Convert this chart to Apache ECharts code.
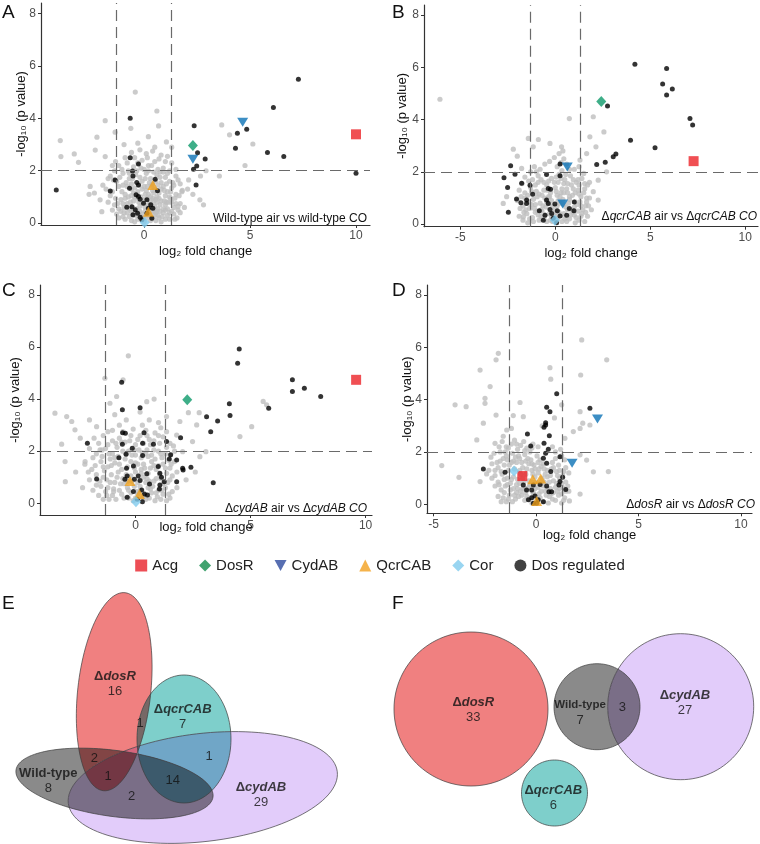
<!DOCTYPE html>
<html><head><meta charset="utf-8">
<script src="https://cdn.jsdelivr.net/npm/echarts@6/dist/echarts.min.js"></script>
<style>html,body{margin:0;padding:0;background:#fff}#c{width:760px;height:844px}</style>
</head><body><div id="c"></div>
<script>
// ---------- DATA ----------
const xTicksA = [0, 5, 10];
const xTicksB = [-5, 0, 5, 10];
const xTicksC = [0, 5, 10];
const xTicksD = [-5, 0, 5, 10];
const yTicks = [0, 2, 4, 6, 8];
const fcCut = 1.3;
const pCut = 2;

// Panel A: Wild-type air vs wild-type CO
const aGrey = [[-0.42,5.0],[0.6,4.28],[-1.37,3.47],[-1.84,3.91],[-0.63,3.62],[0.68,3.71],[-2.23,3.28],[-3.96,3.15],[-3.93,2.54],[-3.3,2.64],[-3.1,2.32],[-2.31,2.79],[-1.84,2.54],[3.66,3.75],[4.03,3.37],[5.13,3.02],[4.76,2.2],[3.55,1.8],[2.92,2.0],[2.66,1.8],[2.1,1.65],[2.63,0.89],[1.78,1.2],[2.05,1.3],[-2.55,1.4],[-2.08,0.89],[-2.0,0.44],[-2.35,1.15],[-1.95,1.45],[-1.7,1.7],[1.05,3.1],[1.3,2.9],[-0.95,3.0],[0.2,3.3],[-0.3,3.05],[2.3,1.1],[1.6,0.5],[2.8,0.7],[-2.6,1.1],[-1.5,2.2],
[-0.6,2.7],[-0.2,2.8],[0.1,2.65],[0.4,2.75],[0.8,2.6],[-0.9,2.5],[1.1,2.55],[0.5,2.9],
[-1.2,2.2],[-0.8,2.3],[-0.5,2.15],[-0.1,2.4],[0.2,2.2],[0.5,2.35],[0.9,2.1],[1.3,2.3],[1.5,2.05],[-1.4,2.0],[0.0,2.05],[0.7,2.45],[-0.3,2.3],
[-1.6,1.8],[-1.3,1.6],[-1.0,1.9],[-0.7,1.7],[-0.4,1.85],[-0.1,1.6],[0.1,1.9],[0.3,1.7],[0.6,1.85],[0.8,1.55],[1.0,1.75],[1.2,1.6],[1.5,1.8],[1.7,1.5],[-0.6,1.5],[0.4,1.5],[-0.2,1.75],[0.9,1.95],
[-1.8,1.3],[-1.5,1.2],[-1.2,1.4],[-0.9,1.1],[-0.6,1.3],[-0.3,1.2],[0.0,1.4],[0.2,1.1],[0.5,1.3],[0.7,1.15],[0.9,1.4],[1.1,1.2],[1.3,1.35],[1.5,1.1],[1.8,1.25],[-1.0,1.45],[0.35,1.45],[-0.45,1.0],[0.1,1.25],[0.6,1.0],[1.2,1.0],
[-1.7,0.8],[-1.4,0.7],[-1.1,0.9],[-0.8,0.75],[-0.5,0.85],[-0.2,0.65],[0.0,0.9],[0.3,0.8],[0.5,0.65],[0.8,0.85],[1.0,0.7],[1.3,0.8],[1.6,0.65],[1.9,0.6],[-1.2,0.55],[-0.7,0.55],[0.15,0.55],[0.65,0.55],[1.1,0.55],[0.4,0.95],
[-1.3,0.35],[-1.0,0.25],[-0.8,0.4],[-0.5,0.3],[-0.3,0.15],[-0.1,0.35],[0.1,0.2],[0.3,0.1],[0.5,0.3],[0.7,0.2],[0.9,0.4],[1.1,0.3],[1.4,0.35],[1.7,0.4],[0.0,0.05],[0.2,0.4],[-0.6,0.1],[0.6,0.45],[0.8,0.05],[1.2,0.15],[-0.2,0.45],[0.4,0.2],
[-1.35,2.35],[-1.05,2.05],[-0.75,2.0],[-0.45,2.5],[-0.15,2.1],[0.15,2.5],[0.35,2.2],[0.65,2.05],[1.0,2.35],[1.2,2.0],
[-1.45,1.65],[-1.15,1.75],[-0.85,1.55],[-0.55,1.7],[-0.25,1.45],[0.05,1.7],[0.25,1.55],[0.55,1.6],[0.75,1.75],[1.05,1.5],[1.35,1.55],[1.6,1.65],
[-1.6,1.05],[-1.35,0.95],[-1.05,1.2],[-0.75,1.0],[-0.5,1.15],[-0.15,1.0],[0.05,1.1],[0.3,1.0],[0.45,1.15],[0.8,1.3],[1.0,1.05],[1.25,1.2],[1.45,0.95],[1.65,1.05],
[-1.5,0.5],[-1.25,0.75],[-0.95,0.6],[-0.65,0.8],[-0.35,0.55],[-0.1,0.75],[0.2,0.7],[0.4,0.6],[0.6,0.8],[0.9,0.55],[1.15,0.8],[1.4,0.6],[1.7,0.75],
[-1.1,0.45],[-0.9,0.15],[-0.7,0.25],[-0.4,0.4],[-0.15,0.25],[0.05,0.45],[0.25,0.3],[0.45,0.45],[0.65,0.3],[0.85,0.25],[1.0,0.5],[1.3,0.45],[1.55,0.2],[0.55,0.1],[-0.45,0.05],
[-0.7,1.9],[-0.35,2.0],[0.2,2.0],[0.45,1.95],[0.75,1.95],[1.1,1.9],
[-0.8,1.4],[-0.45,1.35],[-0.1,1.3],[0.15,1.4],[0.4,1.25],[0.65,1.45],[0.95,1.25],[1.4,1.45],
[-0.9,0.95],[-0.6,1.05],[-0.3,0.95],[0.15,0.95],[0.45,0.85],[0.7,0.95],[0.95,0.85],[1.25,0.95],
[-1.0,0.75],[-0.55,0.6],[-0.25,0.8],[0.05,0.6],[0.35,0.7],[0.55,0.9],[0.75,0.7],[1.05,0.8],[1.5,0.75],
[-1.2,0.2],[-0.95,0.4],[-0.6,0.45],[-0.35,0.3],[-0.05,0.2],[0.15,0.3],[0.35,0.45],[0.55,0.4],[0.75,0.45],[1.0,0.15],[1.2,0.4],[1.45,0.15]];
const aDos = [[7.28,5.49],[6.10,4.41],[4.84,3.58],[4.40,3.43],[4.31,2.86],[5.82,2.70],[6.59,2.54],[10.0,1.90],[2.36,3.72],[2.52,2.69],[2.88,2.45],[2.48,2.18],[2.33,2.06],[2.45,1.46],[-0.66,4.0],[-0.66,2.5],[-0.27,2.26],[-0.55,1.99],[-4.15,1.27],[-1.37,1.65],[-1.6,1.23],[-0.53,1.8],[0.52,1.68],[0.63,1.24],[-0.69,1.33],[-0.35,1.55],[-0.27,1.46],[-0.38,1.08],[-0.27,1.02],[-0.19,0.91],[-0.82,0.61],[-0.58,0.63],[-0.42,0.51],[-0.31,0.38],[-0.19,0.23],[-0.03,0.76],[0.13,0.89],[0.2,0.57],[0.36,0.19],[0.41,0.57],[-0.53,0.32],[-0.11,0.13],[0.13,0.38],[0.31,0.7]];
const aAcg = [[10.0,3.39]];
const aDosR = [[2.3,2.96]];
const aCydAB = [[4.65,3.85],[2.3,2.44]];
const aQcrCAB = [[0.41,1.46],[0.2,0.44]];
const aCor = [[0.02,0.03]];

// Panel B: ΔqcrCAB air vs ΔqcrCAB CO
const bGrey = [[-6.07,4.78],[0.74,4.04],[2.0,4.11],[2.56,3.53],[1.82,3.34],[2.14,2.96],[1.65,2.7],[1.3,2.45],[1.5,1.94],[2.26,1.68],[2.26,0.92],[2.0,1.24],[-0.89,3.24],[-1.42,3.28],[-1.16,2.96],[-0.28,3.09],[-2.21,2.87],[0.33,2.96],[0.4,2.8],[-1.77,2.13],[-2.56,1.05],[-2.74,0.79],[-1.68,0.28],[-2.0,2.6],[2.7,2.0],[1.8,1.6],
[0.2,2.7],[0.45,2.5],[-0.3,2.4],[0.1,2.2],[0.6,2.3],[-0.8,2.1],[-1.3,2.0],[1.0,2.1],[0.35,2.05],
[-1.6,1.8],[-1.2,1.7],[-0.9,1.85],[-0.6,1.6],[-0.2,1.75],[0.2,1.9],[0.5,1.7],[0.8,1.85],[1.1,1.6],[1.4,1.75],[1.7,1.5],
[-1.9,1.3],[-1.6,1.2],[-1.3,1.4],[-1.0,1.25],[-0.7,1.1],[-0.4,1.3],[0.0,1.4],[0.3,1.2],[0.6,1.35],[0.9,1.1],[1.2,1.3],[1.5,1.2],[1.8,1.0],[0.45,1.55],[0.15,1.6],
[-2.0,0.9],[-1.7,0.7],[-1.4,0.85],[-1.1,0.6],[-0.8,0.8],[-0.5,0.65],[-0.2,0.9],[0.1,0.7],[0.4,0.95],[0.7,0.8],[1.0,0.65],[1.3,0.85],[1.6,0.7],[1.9,0.55],[0.25,1.05],[-0.35,1.05],
[-1.9,0.3],[-1.5,0.4],[-1.2,0.25],[-0.9,0.35],[-0.6,0.2],[-0.3,0.4],[0.0,0.3],[0.2,0.45],[0.5,0.2],[0.8,0.35],[1.1,0.25],[1.4,0.4],[1.7,0.3],[-0.15,0.1],[0.35,0.1],[0.65,0.55],[1.2,0.5],[-0.7,0.5],
[-1.1,2.2],[-0.55,2.3],[-0.05,2.55],[0.3,2.35],[0.75,2.1],[1.25,2.2],[-1.0,2.0],
[-1.75,1.55],[-1.4,1.65],[-1.05,1.5],[-0.75,1.7],[-0.45,1.5],[-0.05,1.6],[0.3,1.75],[0.65,1.55],[0.95,1.7],[1.25,1.5],[1.55,1.55],
[-1.8,1.05],[-1.45,1.1],[-1.15,0.95],[-0.85,1.15],[-0.55,1.0],[-0.25,1.2],[0.1,1.1],[0.45,1.2],[0.75,1.05],[1.05,1.2],[1.35,1.05],[1.65,1.0],
[-1.85,0.6],[-1.55,0.55],[-1.25,0.75],[-0.95,0.5],[-0.65,0.7],[-0.35,0.8],[-0.05,0.55],[0.25,0.8],[0.55,0.65],[0.85,0.55],[1.15,0.75],[1.45,0.55],[1.75,0.7],
[-1.7,0.15],[-1.35,0.2],[-1.05,0.45],[-0.75,0.3],[-0.45,0.1],[-0.2,0.3],[0.1,0.2],[0.3,0.35],[0.6,0.1],[0.95,0.45],[1.25,0.15],[1.55,0.1],[1.05,0.05],
[-0.9,1.6],[-0.35,1.65],[0.05,1.8],[0.55,1.9],[0.85,1.5],[1.2,1.7],
[-1.6,1.0],[-1.25,1.25],[-0.95,1.05],[-0.6,1.3],[-0.3,1.05],[0.05,1.25],[0.35,1.35],[0.65,1.2],[0.95,1.35],[1.25,1.15],[1.55,1.35],
[-1.65,0.45],[-1.35,0.6],[-1.05,0.75],[-0.75,0.55],[-0.45,0.85],[-0.15,0.7],[0.15,0.9],[0.45,0.75],[0.75,0.95],[1.05,0.85],[1.35,0.7],[1.65,0.85],
[-1.45,0.05],[-1.15,0.1],[-0.85,0.15],[-0.55,0.35],[-0.25,0.15],[0.05,0.45],[0.45,0.4],[0.75,0.2],[1.0,0.35],[1.35,0.3],[1.6,0.45]];
const bDos = [[4.19,6.12],[5.86,5.96],[5.65,5.36],[6.16,5.17],[5.86,4.94],[7.09,4.04],[7.23,3.79],[3.96,3.21],[5.25,2.92],[3.19,2.68],[3.05,2.58],[2.63,2.37],[2.18,2.28],[2.75,4.52],[0.25,2.30],[0.25,1.85],[-2.35,2.23],[-2.12,1.91],[-2.70,1.77],[-2.51,1.40],[-1.77,1.56],[-2.04,0.96],[-1.81,0.82],[-2.47,0.45],[-1.51,0.92],[-1.51,0.79],[-1.19,1.14],[-1.33,1.49],[-0.46,1.90],[-0.37,1.36],[-0.25,1.33],[-0.46,0.92],[-0.37,0.79],[-0.28,0.56],[-0.84,0.51],[-0.54,0.34],[-0.19,0.41],[-0.11,0.22],[0.11,0.51],[0.25,0.31],[0.60,0.34],[0.74,0.60],[0.98,0.51],[1.0,0.85],[-0.63,0.15],[0.07,0.05],[-0.02,0.77]];
const bAcg = [[7.28,2.41]];
const bDosR = [[2.42,4.69]];
const bCydAB = [[0.63,2.19],[0.39,0.77]];
const bQcrCAB = [];
const bCor = [[-0.02,0.15]];

// Panel C: ΔcydAB air vs ΔcydAB CO
const cGrey = [[-0.31,5.66],[-1.33,4.8],[-0.54,4.74],[-3.5,3.46],[-2.99,3.33],[-2.77,3.14],[-2.63,2.82],[-3.21,2.27],[-3.06,1.6],[-3.05,0.83],[-2.0,3.2],[-1.69,2.94],[-1.54,2.05],[-2.19,1.6],[-1.11,3.84],[-0.82,4.1],[0.49,3.9],[0.81,4.0],[1.35,3.33],[1.93,3.14],[2.3,3.48],[2.77,3.48],[2.66,3.01],[2.48,2.37],[3.06,1.98],[5.55,3.91],[5.7,3.78],[4.54,2.56],[5.05,2.94],[1.79,2.62],[2.05,1.98],[2.8,1.79],[-2.4,2.5],[-2.6,1.2],[-2.3,0.6],[2.2,0.9],[2.6,1.2],[-0.9,3.4],[0.2,3.5],[1.0,3.1],
[-0.7,3.0],[-0.4,3.2],[0.3,3.0],[0.6,3.2],[1.1,2.9],[-1.0,2.8],
[-1.8,2.5],[-1.4,2.6],[-1.0,2.4],[-0.7,2.5],[-0.2,2.6],[0.1,2.45],[0.5,2.6],[0.8,2.4],[1.2,2.55],[1.5,2.3],
[-2.0,2.1],[-1.7,1.9],[-1.3,2.1],[-1.0,1.9],[-0.8,2.15],[-0.3,2.0],[0.0,1.85],[0.5,2.05],[0.7,1.85],[1.0,2.0],[1.3,1.9],[1.7,2.0],
[-2.2,1.5],[-1.9,1.3],[-1.5,1.6],[-1.2,1.4],[-0.9,1.55],[-0.6,1.3],[-0.2,1.6],[0.1,1.5],[0.4,1.35],[0.7,1.6],[0.9,1.3],[1.2,1.5],[1.5,1.35],[1.8,1.2],[0.25,1.75],[-0.45,1.7],
[-2.0,0.9],[-1.7,0.7],[-1.4,1.0],[-1.1,0.8],[-0.8,1.0],[-0.5,0.75],[-0.2,1.05],[0.1,0.8],[0.35,1.0],[0.6,0.85],[0.9,0.95],[1.2,0.75],[1.5,0.9],[1.8,0.6],[0.0,1.2],
[-1.6,0.3],[-1.3,0.45],[-1.0,0.3],[-0.7,0.5],[-0.5,0.2],[-0.2,0.4],[0.0,0.2],[0.2,0.5],[0.45,0.15],[0.7,0.4],[0.95,0.25],[1.2,0.35],[1.5,0.2],[-0.35,0.6],[0.55,0.6],[-0.1,0.1],
[-0.55,2.75],[-0.1,2.85],[0.45,2.8],[0.85,2.7],[-1.2,2.75],[1.35,2.75],
[-1.6,2.3],[-1.2,2.25],[-0.85,2.3],[-0.45,2.35],[0.0,2.25],[0.35,2.3],[0.65,2.25],[1.05,2.3],[1.35,2.15],[1.65,2.2],
[-1.85,1.75],[-1.45,1.8],[-1.1,1.7],[-0.75,1.8],[-0.4,1.9],[-0.05,2.05],[0.3,1.95],[0.55,1.8],[0.85,1.7],[1.15,1.75],[1.45,1.65],[1.7,1.6],
[-2.05,1.2],[-1.7,1.1],[-1.35,1.25],[-1.05,1.1],[-0.75,1.2],[-0.4,1.1],[-0.05,1.35],[0.25,1.3],[0.55,1.15],[0.8,1.45],[1.05,1.1],[1.35,1.15],[1.6,1.05],
[-1.85,0.5],[-1.5,0.65],[-1.2,0.6],[-0.95,0.55],[-0.65,0.75],[-0.35,0.85],[-0.05,0.65],[0.2,0.65],[0.45,0.8],[0.75,0.65],[1.0,0.5],[1.3,0.6],[1.6,0.45],
[-1.4,0.15],[-1.15,0.15],[-0.85,0.15],[-0.3,0.2],[0.1,0.35],[0.35,0.3],[0.6,0.2],[0.85,0.1],[1.1,0.15],[1.35,0.1],
[-0.6,2.35],[-0.25,2.4],[0.2,2.6],[0.6,2.45],[1.0,2.6],
[-1.45,2.05],[-1.15,1.9],[-0.9,1.75],[-0.55,2.0],[-0.15,1.85],[0.15,2.05],[0.45,1.9],[0.8,2.05],[1.1,1.9],[1.5,1.85],
[-1.75,1.45],[-1.4,1.4],[-1.05,1.45],[-0.7,1.5],[-0.35,1.4],[0.0,1.55],[0.35,1.5],[0.65,1.35],[1.0,1.45],[1.3,1.35],[1.55,1.5],
[-1.55,0.85],[-1.25,0.9],[-0.9,0.8],[-0.55,0.95],[-0.15,0.85],[0.25,1.15],[0.5,0.95],[0.8,0.85],[1.1,0.95],[1.4,0.8],
[-1.25,0.3],[-0.95,0.45],[-0.6,0.35],[-0.3,0.5],[0.05,0.45],[0.3,0.2],[0.65,0.55],[0.9,0.4],[1.15,0.5],[1.45,0.35]];
const cDos = [[4.51,5.92],[4.44,5.38],[6.82,4.74],[6.82,4.29],[7.34,4.42],[8.05,4.10],[5.79,3.65],[4.08,3.82],[4.11,3.37],[3.09,3.32],[3.57,3.16],[3.27,2.75],[1.96,2.52],[3.38,0.79],[-2.09,2.30],[-0.6,4.65],[-0.57,3.59],[-0.56,2.71],[-0.44,2.69],[0.2,3.67],[0.37,2.71],[-0.57,2.27],[-0.41,1.88],[-0.14,2.11],[0.31,2.30],[0.31,1.83],[0.78,2.27],[1.35,2.37],[-0.72,1.75],[-0.09,1.43],[1.53,1.86],[1.47,1.70],[1.79,1.66],[2.05,1.34],[2.07,1.28],[2.41,1.38],[1.79,0.83],[-1.69,0.93],[0.99,1.41],[1.06,1.15],[1.13,1.0],[1.06,0.70],[1.04,0.55],[1.25,0.83],[0.49,1.13],[0.61,0.74],[-0.39,1.34],[-0.36,1.05],[-0.05,0.92],[0.12,1.05],[0.2,0.87],[0.27,0.51],[-0.09,0.45],[0.39,0.36],[0.52,0.32],[-0.36,0.23],[0.08,0.15],[0.3,0.06],[-0.46,0.92]];
const cAcg = [[9.59,4.74]];
const cDosR = [[2.25,3.97]];
const cCydAB = [];
const cQcrCAB = [[-0.24,0.86],[0.17,0.36]];
const cCor = [[0.02,0.06]];

// Panel D: ΔdosR air vs ΔdosR CO
const dGrey = [[2.23,6.28],[3.45,5.52],[-1.84,5.77],[-1.95,5.52],[-2.73,5.13],[-2.24,4.5],[0.68,5.22],[0.72,4.78],[2.18,4.94],[-3.95,3.8],[-3.41,3.73],[-2.49,4.05],[-2.49,3.86],[-1.95,3.41],[-0.78,3.89],[-1.11,3.39],[-0.62,3.35],[1.25,3.8],[2.15,3.54],[2.28,3.1],[2.63,3.03],[2.15,2.9],[1.82,2.78],[1.41,2.52],[-4.6,1.48],[-3.76,1.03],[-2.73,0.87],[-2.41,1.16],[2.8,1.24],[3.53,1.25],[2.47,1.69],[2.15,1.89],[1.63,0.13],[2.15,0.39],[-2.0,2.33],[-1.43,2.84],[-2.89,2.46],[-2.57,3.1],[-1.6,2.6],[-1.2,2.9],[0.3,3.0],[0.9,3.3],
[-1.8,2.2],[-1.5,2.0],[-1.2,2.3],[-0.9,2.1],[-0.6,2.4],[-0.3,2.0],[0.1,2.2],[0.8,2.2],[1.2,2.1],
[-2.2,1.8],[-1.9,1.6],[-1.6,1.75],[-1.3,1.5],[-1.0,1.8],[-0.7,1.6],[-0.4,1.75],[-0.1,1.5],[0.2,1.7],[0.8,1.6],[1.1,1.5],[1.4,1.7],
[-2.3,1.3],[-2.0,1.1],[-1.7,1.25],[-1.4,1.0],[-1.1,1.05],[-0.8,1.3],[-0.5,1.15],[-0.2,1.3],[0.1,1.2],[0.4,1.35],[0.7,1.1],[1.0,1.25],[1.3,1.1],[1.6,1.2],[-1.2,1.6],
[-2.0,0.7],[-1.7,0.55],[-1.4,0.75],[-1.1,0.6],[-0.8,0.8],[-0.5,0.6],[-0.2,0.85],[0.1,0.65],[0.4,0.85],[0.7,0.6],[1.0,0.8],[1.3,0.65],[1.6,0.5],[-0.9,0.95],[0.3,1.0],
[-1.6,0.25],[-1.3,0.35],[-1.0,0.2],[-0.7,0.35],[-0.4,0.2],[-0.1,0.4],[0.2,0.25],[0.5,0.35],[0.8,0.2],[1.1,0.35],[1.4,0.25],[-0.5,0.45],[0.6,0.05],[-0.2,0.05],
[-1.65,2.4],[-1.35,2.15],[-1.05,2.45],[-0.75,2.25],[-0.45,2.15],[-0.15,2.3],[0.95,2.0],
[-2.05,1.95],[-1.75,2.0],[-1.45,1.85],[-1.15,1.95],[-0.85,1.85],[-0.55,1.9],[-0.25,1.7],[0.05,1.85],[0.35,1.55],[0.95,1.75],[1.25,1.85],
[-2.15,1.55],[-1.85,1.4],[-1.55,1.5],[-0.95,1.6],[-0.65,1.4],[-0.35,1.55],[-0.05,1.35],[0.25,1.45],[0.55,1.3],[0.85,1.4],[1.15,1.3],[1.45,1.4],
[-2.15,1.0],[-1.85,0.85],[-1.55,0.95],[-1.25,0.8],[-0.95,0.75],[-0.65,1.0],[-0.35,0.9],[-0.05,1.05],[0.25,0.85],[0.55,1.05],[0.85,0.9],[1.15,1.0],[1.45,0.85],
[-1.85,0.3],[-1.55,0.45],[-1.25,0.55],[-0.95,0.45],[-0.65,0.6],[-0.35,0.65],[-0.05,0.6],[0.25,0.5],[0.55,0.6],[0.85,0.45],[1.15,0.6],[1.45,0.5],
[-1.45,0.1],[-1.15,0.1],[-0.85,0.3],[-0.55,0.15],[-0.25,0.25],[0.05,0.15],[0.35,0.1],[0.65,0.3],[0.95,0.15],[1.25,0.4],[1.25,0.05],
[-1.45,2.2],[-0.95,2.3],[-0.55,2.05],[-0.2,2.15],
[-1.75,1.65],[-1.4,1.7],[-1.1,1.65],[-0.8,1.75],[-0.5,1.65],[-0.2,1.55],[0.1,1.6],
[-2.0,1.3],[-1.65,1.15],[-1.35,1.3],[-1.05,1.35],[-0.75,1.15],[-0.45,1.35],[-0.15,1.15],[0.15,1.35],[0.45,1.15],[0.75,1.35],[1.05,1.1],[1.35,1.25],
[-1.8,0.75],[-1.5,0.7],[-1.2,0.95],[-0.9,0.6],[-0.6,0.85],[-0.3,0.75],[0.0,0.85],[0.35,0.7],[0.65,0.85],[0.95,0.65],[1.25,0.8],[1.55,0.7],
[-1.7,0.1],[-1.35,0.2],[-1.05,0.35],[-0.75,0.5],[-0.45,0.3],[-0.15,0.45],[0.15,0.4],[0.45,0.5],[0.75,0.4],[1.05,0.5],[1.35,0.15]];
const dDos = [[1.01,4.22],[2.63,3.67],[0.52,3.71],[0.68,3.54],[0.47,3.03],[0.39,2.94],[0.47,3.12],[0.65,2.62],[0.39,2.33],[0.60,2.10],[0.47,1.95],[0.36,1.76],[1.17,1.82],[-0.42,2.69],[-0.26,2.23],[-2.57,1.35],[-1.51,1.22],[0.52,1.57],[0.72,1.25],[1.30,1.03],[1.17,0.87],[1.12,0.74],[1.45,0.57],[-0.62,0.74],[-0.46,0.55],[-0.21,0.55],[-0.13,0.74],[0.2,0.76],[0.52,0.70],[0.63,0.48],[0.76,0.48],[-0.37,0.17],[-0.21,0.25],[-0.13,0.04],[0.11,0.17],[0.36,0.10],[-0.05,0.32],[0.03,0.04]];
const dAcg = [[-0.67,1.08]];
const dDosR = [];
const dCydAB = [[3.0,3.26],[1.76,1.57]];
const dQcrCAB = [[-0.16,0.96],[0.23,0.99],[0.03,0.13]];
const dCor = [[-1.07,1.27]];

// Venn diagrams: set names, counts, overlaps
const vennESets = ['dosR', 'qcrCAB', 'Wild-type', 'cydAB'];
const vennECounts = [16, 7, 8, 29];
const vennEOverlaps = [1, 2, 1, 1, 14, 2];
const vennFSets = ['dosR', 'Wild-type', 'cydAB', 'qcrCAB'];
const vennFCounts = [33, 7, 27, 6];
const vennFOverlaps = [3];

// ---------- LAYOUT / STYLE ----------
const FF = '"Liberation Sans", Arial, Helvetica, sans-serif';
const panelData = [
  {grey:aGrey, dos:aDos, acg:aAcg, dosr:aDosR, cyd:aCydAB, qcr:aQcrCAB, cor:aCor, xt:xTicksA},
  {grey:bGrey, dos:bDos, acg:bAcg, dosr:bDosR, cyd:bCydAB, qcr:bQcrCAB, cor:bCor, xt:xTicksB},
  {grey:cGrey, dos:cDos, acg:cAcg, dosr:cDosR, cyd:cCydAB, qcr:cQcrCAB, cor:cCor, xt:xTicksC},
  {grey:dGrey, dos:dDos, acg:dAcg, dosr:dDosR, cyd:dCydAB, qcr:dQcrCAB, cor:dCor, xt:xTicksD}
];
const panelLayout = [
  {left:41, top:3, width:329, height:222, xmin:-4.87, xmax:10.66, ymin:-0.07, ymax:8.4, xGap:20, yGap:13},
  {left:424, top:5, width:334, height:221.7, xmin:-6.91, xmax:10.67, ymin:-0.1, ymax:8.39, xGap:20, yGap:15},
  {left:40, top:285, width:332, height:230, xmin:-4.15, xmax:10.28, ymin:-0.45, ymax:8.38, xGap:6, yGap:18},
  {left:427, top:285, width:325, height:228.3, xmin:-5.32, xmax:10.54, ymin:-0.344, ymax:8.38, xGap:16, yGap:13}
];
const vennEShapes = [[114.2,691.7,36.5,99.6,6.25],[184,739,47,64,0],[114.5,783.5,99.4,33,7.8],[202.8,787.5,135.4,54,-6.7]];
const vennEFills = ['#F08080','#7ECFCB','#8A8A8A','#E2CCFA'];
const vennESetPos = [[115,684.2],[182.7,716.5],[48.3,780.7],[261,795.3]];
const vennEOverlapPos = [[140,723],[94.3,758],[108,776.7],[209,756.7],[172.7,780],[131.7,796.7]];
const vennFShapes = [[471,709,77,77,0],[597,706.7,43,43,0],[680.7,706.7,73,73,0],[554.5,793,33,33,0]];
const vennFFills = ['#F08080','#8A8A8A','#E2CCFA','#7ECFCB'];
const vennFSetPos = [[473.3,710],[580,712.5],[685,703.3],[553.3,797.5]];
const vennFOverlapPos = [[622.3,707.7]];

const downTri = 'path://M0,0L10,0L5,9Z';

const grids = [], xAxes = [], yAxes = [], series = [];
panelLayout.forEach((L, i) => {
  grids.push({left:L.left, top:L.top, width:L.width, height:L.height, containLabel:false});
  xAxes.push({type:'value', gridIndex:i, min:L.xmin, max:L.xmax, splitLine:{show:false},
    axisLine:{onZero:false, lineStyle:{color:'#333', width:1.2}},
    axisTick:{show:true, customValues:panelData[i].xt, length:3, lineStyle:{color:'#333'}},
    axisLabel:{customValues:panelData[i].xt, color:'#4d4d4d', fontSize:12, margin:5, fontFamily:FF},
    name:'log₂ fold change', nameLocation:'middle', nameGap:L.xGap, nameMoveOverlap:false,
    nameTextStyle:{color:'#111', fontSize:13, fontFamily:FF}});
  yAxes.push({type:'value', gridIndex:i, min:L.ymin, max:L.ymax, splitLine:{show:false},
    axisLine:{onZero:false, lineStyle:{color:'#333', width:1.2}},
    axisTick:{show:true, customValues:yTicks, length:3, lineStyle:{color:'#333'}},
    axisLabel:{customValues:yTicks, color:'#4d4d4d', fontSize:12, margin:5, fontFamily:FF},
    name:'-log₁₀ (p value)', nameLocation:'middle', nameRotate:90, nameGap:L.yGap, nameMoveOverlap:false,
    nameTextStyle:{color:'#111', fontSize:13, fontFamily:FF}});
  const P = panelData[i];
  const base = {type:'scatter', xAxisIndex:i, yAxisIndex:i};
  series.push(Object.assign({}, base, {name:'guides', data:[], z:1, silent:true,
    markLine:{silent:true, symbol:'none', label:{show:false}, animation:false,
      lineStyle:{type:[11,6], color:'#6a6a6a', width:1.2},
      data:[{xAxis:-fcCut},{xAxis:fcCut},{yAxis:pCut}]}}));
  series.push(Object.assign({}, base, {name:'other', data:P.grey, symbol:'circle', symbolSize:5.2, itemStyle:{color:'#BEBEBE'}, z:2, silent:true}));
  series.push(Object.assign({}, base, {name:'Dos regulated', data:P.dos, symbol:'circle', symbolSize:5, itemStyle:{color:'#000'}, z:3}));
  series.push(Object.assign({}, base, {name:'Acg', data:P.acg, symbol:'rect', symbolSize:10, itemStyle:{color:'#EC2328'}, z:4}));
  series.push(Object.assign({}, base, {name:'DosR', data:P.dosr, symbol:'diamond', symbolSize:[10,11], itemStyle:{color:'#0E9A6A'}, z:4}));
  series.push(Object.assign({}, base, {name:'CydAB', data:P.cyd, symbol:downTri, symbolSize:[11,9], itemStyle:{color:'#0B72B5'}, z:4}));
  series.push(Object.assign({}, base, {name:'QcrCAB', data:P.qcr, symbol:'triangle', symbolSize:[11,10], itemStyle:{color:'#EE9F1A'}, z:4}));
  series.push(Object.assign({}, base, {name:'Cor', data:P.cor, symbol:'diamond', symbolSize:[10,11], itemStyle:{color:'#80CBEE'}, z:4}));
});

// Venn grid (pixel-unit axes, hidden)
grids.push({left:0, top:540, width:760, height:304});
xAxes.push({type:'value', gridIndex:4, min:0, max:760, show:false});
yAxes.push({type:'value', gridIndex:4, min:540, max:844, inverse:true, show:false});

function hexRgb(h) { return [parseInt(h.slice(1,3),16), parseInt(h.slice(3,5),16), parseInt(h.slice(5,7),16)]; }
function ellipsePts(s, api) {
  const rot = s[4] * Math.PI / 180, pts = [];
  for (let k = 0; k < 120; k++) {
    const t = k / 120 * 2 * Math.PI, u = s[2] * Math.cos(t), v = s[3] * Math.sin(t);
    pts.push(api.coord([s[0] + u * Math.cos(rot) - v * Math.sin(rot), s[1] + u * Math.sin(rot) + v * Math.cos(rot)]));
  }
  return pts;
}
function clipPoly(subject, clip) {
  let area = 0;
  for (let i = 0; i < clip.length; i++) { const a = clip[i], b = clip[(i+1) % clip.length]; area += a[0]*b[1] - b[0]*a[1]; }
  const sg = area > 0 ? 1 : -1;
  let out = subject;
  for (let i = 0; i < clip.length && out.length; i++) {
    const A = clip[i], B = clip[(i+1) % clip.length];
    const inside = P => sg * ((B[0]-A[0])*(P[1]-A[1]) - (B[1]-A[1])*(P[0]-A[0])) >= 0;
    const inp = out; out = [];
    for (let j = 0; j < inp.length; j++) {
      const P = inp[j], Q = inp[(j+1) % inp.length], pi = inside(P), qi = inside(Q);
      if (pi) out.push(P);
      if (pi !== qi) {
        const d1x = Q[0]-P[0], d1y = Q[1]-P[1], d2x = B[0]-A[0], d2y = B[1]-A[1];
        const den = d1x*d2y - d1y*d2x;
        const t = ((A[0]-P[0])*d2y - (A[1]-P[1])*d2x) / den;
        out.push([P[0] + t*d1x, P[1] + t*d1y]);
      }
    }
  }
  return out;
}
function vennRender(shapes, fills) {
  const rgb = fills.map(hexRgb);
  return function (params, api) {
    const i = params.dataIndex;
    const own = [api.value(0), api.value(1), api.value(2), api.value(3), api.value(4)];
    const polys = shapes.map((s, j) => ellipsePts(j === i ? own : s, api));
    const children = [{type:'polygon', shape:{points:polys[i]}, style:{fill:fills[i]}}];
    const subsets = [];
    for (let m = 1; m < (1 << i); m++) { const s = []; for (let j = 0; j < i; j++) if (m & (1 << j)) s.push(j); subsets.push(s); }
    subsets.sort((a, b) => a.length - b.length);
    subsets.forEach(s => {
      let poly = polys[i], col = rgb[i].slice();
      for (const j of s) { poly = clipPoly(poly, polys[j]); col = col.map((c, k) => c * rgb[j][k] / 255); if (poly.length < 3) break; }
      if (poly.length >= 3) children.push({type:'polygon', shape:{points:poly},
        style:{fill:'rgb(' + col.map(Math.round).join(',') + ')'}});
    });
    return {type:'group', children:children};
  };
}
function outlineRender(params, api) {
  const s = [api.value(0), api.value(1), api.value(2), api.value(3), api.value(4)];
  return {type:'polygon', shape:{points:ellipsePts(s, api)}, style:{fill:null, stroke:'#3c3c3c', lineWidth:0.7}};
}
[[vennEShapes, vennEFills], [vennFShapes, vennFFills]].forEach(([shapes, fills], k) => {
  series.push({type:'custom', name:'venn' + k, xAxisIndex:4, yAxisIndex:4, coordinateSystem:'cartesian2d',
    renderItem:vennRender(shapes, fills), data:shapes, encode:{x:0, y:1}, clip:false, silent:true, z:1});
  series.push({type:'custom', name:'vennOutline' + k, xAxisIndex:4, yAxisIndex:4, coordinateSystem:'cartesian2d',
    renderItem:outlineRender, data:shapes, encode:{x:0, y:1}, clip:false, silent:true, z:2});
});

function setLabel(name, count, small) {
  if (name === 'Wild-type') return '{' + (small ? 'ws' : 'w') + '|Wild-type}\n{n|' + count + '}';
  return '{d|Δ}{di|' + name + '}\n{n|' + count + '}';
}
const labelData = [];
vennESets.forEach((s, i) => labelData.push({value:vennESetPos[i], t:setLabel(s, vennECounts[i], false)}));
vennEOverlaps.forEach((c, i) => labelData.push({value:vennEOverlapPos[i], t:'{n|' + c + '}'}));
vennFSets.forEach((s, i) => labelData.push({value:vennFSetPos[i], t:setLabel(s, vennFCounts[i], true)}));
vennFOverlaps.forEach((c, i) => labelData.push({value:vennFOverlapPos[i], t:'{n|' + c + '}'}));
series.push({type:'scatter', name:'vennLabels', xAxisIndex:4, yAxisIndex:4, data:labelData, symbolSize:1,
  itemStyle:{color:'rgba(0,0,0,0)'}, silent:true, z:6,
  label:{show:true, position:'inside', formatter:p => p.data.t,
    rich:{
      d:{fontSize:13, fontWeight:'bold', color:'#111', fontFamily:FF, lineHeight:15},
      di:{fontSize:13, fontWeight:'bold', fontStyle:'italic', color:'#111', fontFamily:FF, lineHeight:15},
      w:{fontSize:13, fontWeight:'bold', color:'#111', fontFamily:FF, lineHeight:15},
      ws:{fontSize:11.5, fontWeight:'bold', color:'#111', fontFamily:FF, lineHeight:15},
      n:{fontSize:13, color:'#111', fontFamily:FF, lineHeight:15}
    }}});

// Text annotations
const richNI = {n:{fontSize:12, fill:'#111', fontFamily:FF}, i:{fontSize:12, fontStyle:'italic', fill:'#111', fontFamily:FF}};
function innerText(x, y, text) {
  return {type:'text', x:x, y:y, z:20, style:{text:text, rich:richNI, align:'right', verticalAlign:'middle', textAlign:'right', textVerticalAlign:'middle', fontSize:12, fontFamily:FF, fill:'#111'}};
}
function letter(x, y, t) {
  return {type:'text', x:x, y:y, z:20, style:{text:t, fontSize:19, fontFamily:FF, fill:'#111', align:'left', verticalAlign:'top'}};
}
const graphics = [
  letter(2, 3, 'A'), letter(392, 3, 'B'), letter(2, 281, 'C'), letter(392, 281, 'D'), letter(2, 594, 'E'), letter(392, 594, 'F'),
  innerText(367, 218.7, '{n|Wild-type air vs wild-type CO}'),
  innerText(757, 216.7, '{n|Δ}{i|qcrCAB}{n| air vs Δ}{i|qcrCAB CO}'),
  innerText(367, 508.3, '{n|Δ}{i|cydAB}{n| air vs Δ}{i|cydAB CO}'),
  innerText(755, 505, '{n|Δ}{i|dosR}{n| air vs Δ}{i|dosR CO}')
];

const chart = echarts.init(document.getElementById('c'), null, {renderer:'canvas'});
chart.setOption({
  backgroundColor:'#ffffff',
  animation:false,
  grid:grids, xAxis:xAxes, yAxis:yAxes, series:series, graphic:graphics,
  legend:{top:553, left:'center', itemWidth:12, itemHeight:12, itemGap:21, selectedMode:false,
    textStyle:{fontSize:15, color:'#222', fontFamily:FF},
    data:[
      {name:'Acg', icon:'rect', itemStyle:{color:'#E8222A'}},
      {name:'DosR', icon:'diamond', itemStyle:{color:'#118C4B'}},
      {name:'CydAB', icon:downTri, itemStyle:{color:'#2D4A9D'}},
      {name:'QcrCAB', icon:'triangle', itemStyle:{color:'#F2A01E'}},
      {name:'Cor', icon:'diamond', itemStyle:{color:'#7FCBEE'}},
      {name:'Dos regulated', icon:'circle', itemStyle:{color:'#111'}}
    ]}
});
</script></body></html>
